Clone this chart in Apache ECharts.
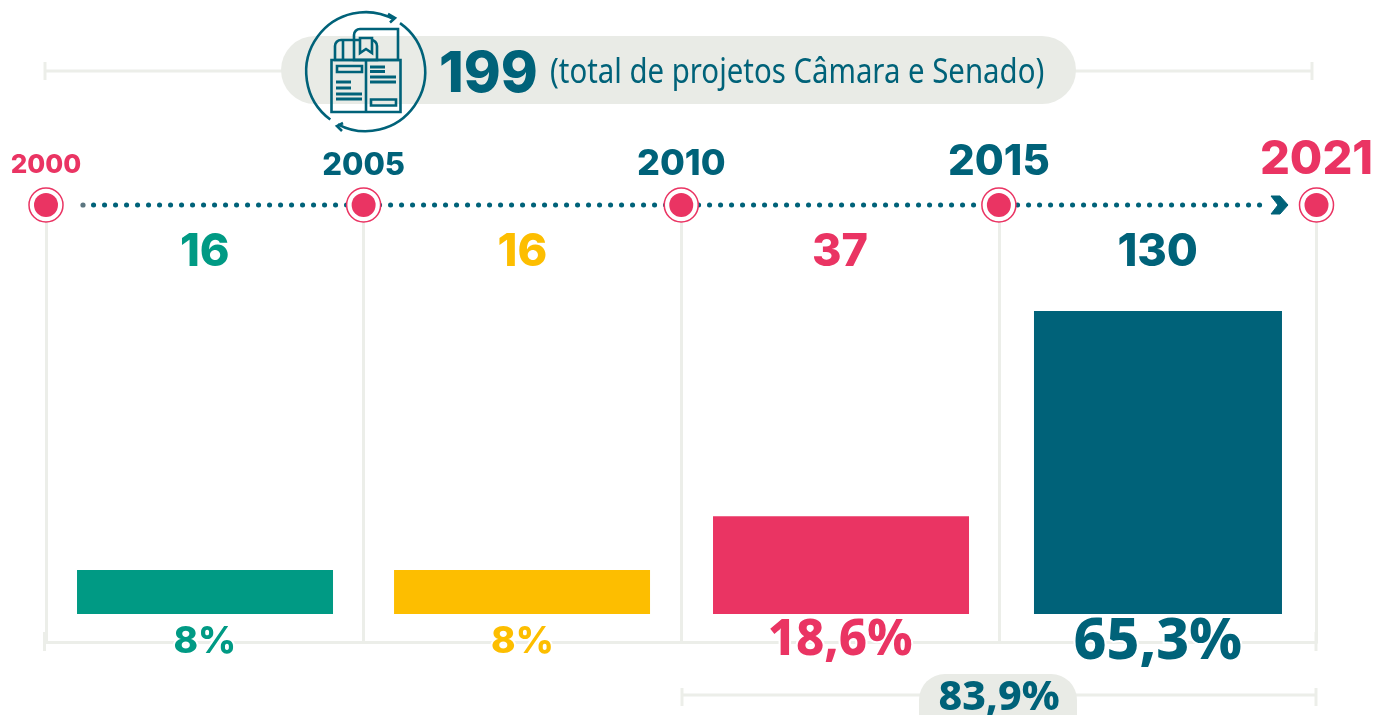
<!DOCTYPE html>
<html><head><meta charset="utf-8">
<style>html,body{margin:0;padding:0;background:#fff;overflow:hidden}#c{width:1373px;height:715px}</style>
<script src="https://cdn.jsdelivr.net/npm/echarts@6/dist/echarts.min.js"></script>
</head><body><div id="c"></div>
<script>
// Data
const periods = ['2000-2005', '2005-2010', '2010-2015', '2015-2021'];
const projectCounts = [16, 16, 37, 130];
const shareLabels = ['8%', '8%', '18,6%', '65,3%'];
// The original bars are not proportional to the counts: these are the drawn lengths, read on a 0-130 scale.
const barLengths = [18.9, 18.9, 42, 130];
const years = ['2000', '2005', '2010', '2015', '2021'];
const totalProjects = '199';
const totalCaption = '(total de projetos Câmara e Senado)';
const combinedShare = '83,9%';

const TEAL='#009a84', YEL='#fdbe00', PINK='#ea3463', BLUE='#006279', GREY='#eceee9', PILL='#e9ebe6';
const barColors=[TEAL,YEL,PINK,BLUE];
const barOffsets=[0.2,-0.4,0.95,0.3];
const yearColors=[PINK,BLUE,BLUE,BLUE,PINK];
const yearSizes=[26,31,36,42,47];
const yearGaps=[15,12,11,10,10];
const shareFonts=[
  {fontFamily:'Inter, sans-serif',fontWeight:800,fontSize:37},
  {fontFamily:'Inter, sans-serif',fontWeight:800,fontSize:37},
  {fontFamily:'"Noto Sans", sans-serif',fontWeight:800,fontSize:49,offset:[0,-1]},
  {fontFamily:'"Noto Sans", sans-serif',fontWeight:800,fontSize:57,offset:[0,1]}
];
const NUM='Inter, sans-serif', PCT='"Noto Sans", sans-serif';
const COUNT_ROW=155, SHARE_ROW=-12;

const icon=(o)=>Object.assign({z:5,silent:true},o);
const st={stroke:BLUE,fill:'none',lineWidth:2.6};
const seg=(x1,y1,x2,y2,w)=>icon({type:'line',shape:{x1,y1,x2,y2},style:{stroke:BLUE,lineWidth:w||2.6}});
const box=(x,y,width,height,r)=>icon({type:'rect',shape:{x,y,width,height,r:r||0},style:st});
const deg=d=>d*Math.PI/180;
const graphics=[
  // top brace
  {type:'line',z:1,shape:{x1:45,y1:71,x2:1312,y2:71},style:{stroke:GREY,lineWidth:3}},
  {type:'line',z:1,shape:{x1:45,y1:62,x2:45,y2:80},style:{stroke:GREY,lineWidth:3}},
  {type:'line',z:1,shape:{x1:1312,y1:62,x2:1312,y2:80},style:{stroke:GREY,lineWidth:3}},
  {type:'rect',z:2,shape:{x:281,y:36,width:795,height:68,r:34},style:{fill:PILL}},
  {type:'text',z:6,style:{x:439,y:75,text:totalProjects,fill:BLUE,font:'800 56px '+NUM,verticalAlign:'middle'}},
  {type:'text',z:6,x:550,y:73,scaleX:0.864,style:{x:0,y:0,text:totalCaption,fill:BLUE,font:'400 34px '+PCT,verticalAlign:'middle'}},
  // bottom brace
  {type:'line',z:1,shape:{x1:682,y1:695,x2:1316,y2:695},style:{stroke:GREY,lineWidth:3}},
  {type:'line',z:1,shape:{x1:682,y1:688,x2:682,y2:706},style:{stroke:GREY,lineWidth:3}},
  {type:'line',z:1,shape:{x1:1316,y1:688,x2:1316,y2:706},style:{stroke:GREY,lineWidth:3}},
  {type:'rect',z:2,shape:{x:919,y:674,width:158,height:70,r:26},style:{fill:PILL}},
  {type:'text',z:6,style:{x:999,y:698,text:combinedShare,fill:BLUE,font:'800 41px '+PCT,align:'center',verticalAlign:'middle'}},
  // axis end caps
  {type:'line',z:1,shape:{x1:44.5,y1:632,x2:44.5,y2:651},style:{stroke:GREY,lineWidth:3}},
  {type:'line',z:1,shape:{x1:1316,y1:632,x2:1316,y2:651},style:{stroke:GREY,lineWidth:3}},
  // dotted timeline
  {type:'circle',z:1,shape:{cx:83,cy:205,r:2.6},style:{fill:'#5c7680'}},
  {type:'line',z:1,shape:{x1:93.5,y1:205,x2:1269,y2:205},style:{stroke:BLUE,lineWidth:5,lineCap:'round',lineDash:[0.1,10.9]}},
  {type:'polygon',z:1,shape:{points:[[1271,196],[1280,196],[1288,205],[1280,214],[1271,214],[1278,205]]},style:{fill:BLUE,stroke:BLUE,lineWidth:1}},
  // icon: circular arrows
  icon({type:'arc',shape:{cx:365.7,cy:71.7,r:59.5,startAngle:deg(126.5),endAngle:deg(298.6),clockwise:true},style:st}),
  icon({type:'arc',shape:{cx:365.7,cy:71.7,r:59.5,startAngle:deg(-54.8),endAngle:deg(117.9),clockwise:true},style:st}),
  icon({type:'polyline',shape:{points:[[388,14],[395,18],[390,22.5]]},style:st}),
  icon({type:'polyline',shape:{points:[[343,123],[337,126],[342,131]]},style:st}),
  // icon: books
  box(354,29,44,31,[6,0,0,0]),
  box(335,40,42,20,[6,6,0,0]),
  seg(343,41,343,60),
  icon({type:'polygon',shape:{points:[[360,38],[372,38],[372,53],[366,49],[360,53]]},style:{stroke:BLUE,fill:PILL,lineWidth:2.6}}),
  box(331.5,60,69,52),
  seg(366,60,366,113),
  box(337,66,25,6),
  box(371,99.5,25,6),
  seg(370,67,385,67,3),seg(370,71.5,385,71.5,3),seg(370,77,396,77,3),seg(370,82,396,82,3),
  seg(336,82,351,82,3),seg(336,88,351,88,3),seg(336,94,362,94,3),seg(336,99,362,99,3)
];

const chart=echarts.init(document.getElementById('c'),null,{renderer:'canvas'});
chart.setOption({
  animation:false,
  backgroundColor:'#fff',
  graphic:{elements:graphics},
  grid:{left:46,right:1373-1316.5,top:205,bottom:715-642},
  xAxis:[
    {type:'category',data:periods,boundaryGap:true,
     axisLine:{show:true,onZero:false,lineStyle:{color:GREY,width:3}},axisTick:{show:false},axisLabel:{show:false},
     splitLine:{show:true,interval:0,lineStyle:{color:GREY,width:3}}},
    {type:'value',min:0,max:4,show:false}
  ],
  yAxis:{type:'value',min:-12,max:175.5,show:false,splitLine:{show:false}},
  series:[
    {type:'custom',name:'Projetos',coordinateSystem:'cartesian2d',xAxisIndex:0,z:3,
     data:barLengths.map((v,i)=>[i,v]),clip:false,
     renderItem:(p,api)=>{
       const i=api.value(0);
       const w=i===3?248:256;
       const c=api.coord([i,api.value(1)]), b=api.coord([i,0]);
       return {type:'rect',shape:{x:c[0]-w/2+barOffsets[i],y:c[1],width:w,height:b[1]-c[1]},style:{fill:barColors[i]}};
     }},
    {type:'scatter',name:'Contagem',xAxisIndex:0,symbolSize:0,z:6,itemStyle:{opacity:1},
     data:projectCounts.map((v,i)=>({value:[i,COUNT_ROW],
       label:{show:true,position:'inside',formatter:String(v),color:barColors[i],opacity:1,fontFamily:NUM,fontWeight:800,fontSize:45}}))},
    {type:'scatter',name:'Parcela',xAxisIndex:0,symbolSize:0,z:6,itemStyle:{opacity:1},clip:false,
     data:shareLabels.map((t,i)=>({value:[i,SHARE_ROW],
       label:Object.assign({show:true,position:'inside',formatter:t,color:barColors[i],opacity:1,textBorderColor:'#fff',textBorderWidth:4},shareFonts[i])}))},
    {type:'scatter',name:'Anel',xAxisIndex:1,symbolSize:34,z:4,clip:false,
     itemStyle:{color:'#fff',borderColor:PINK,borderWidth:1.5,opacity:1},
     data:years.map((y,i)=>[i,175.5])},
    {type:'scatter',name:'Ano',xAxisIndex:1,symbolSize:24,z:5,clip:false,
     itemStyle:{color:PINK,opacity:1},
     data:years.map((y,i)=>({value:[i,175.5],
       label:{show:true,position:'top',distance:yearGaps[i],formatter:y,color:yearColors[i],opacity:1,fontFamily:NUM,fontWeight:800,fontSize:yearSizes[i]}}))}
  ]
});
</script></body></html>
